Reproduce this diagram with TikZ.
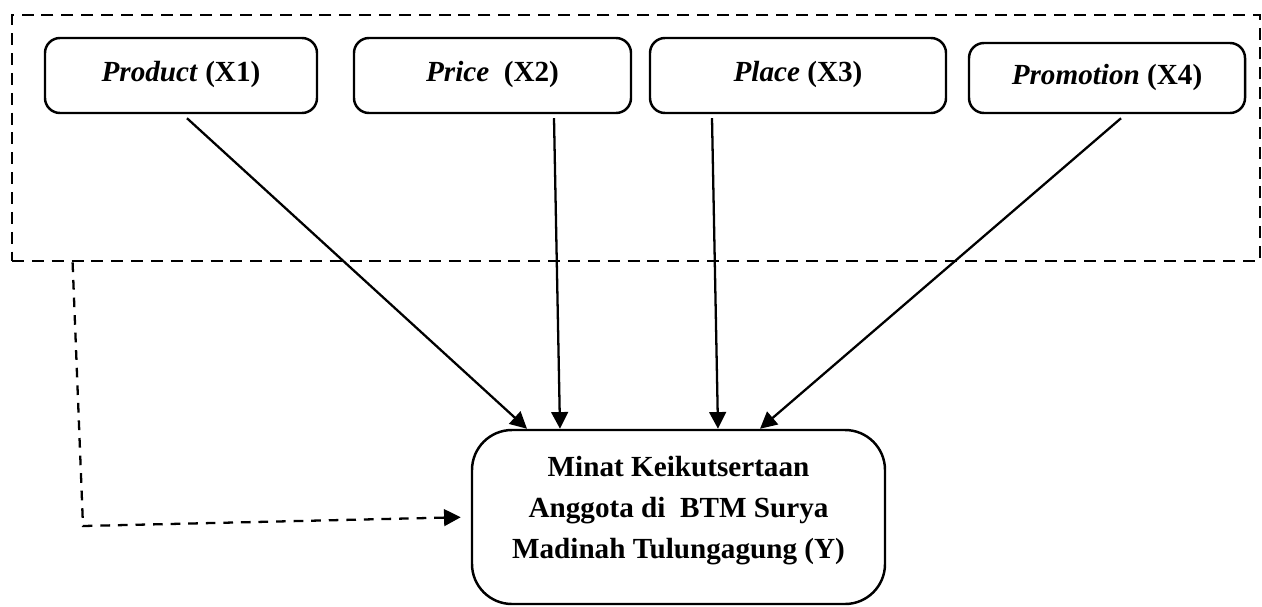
\documentclass[tikz,border=0pt]{standalone}
\usepackage{fontspec}
\setmainfont{Liberation Serif}
\usetikzlibrary{arrows.meta}
\usetikzlibrary{positioning}

\begin{document}
\begin{tikzpicture}[factor/.style={draw, rectangle, rounded corners=0.3cm, line width=1.4pt, minimum height=1.5cm, text depth=0.45em, font=\fontsize{16.6}{22}\selectfont\bfseries},
			result/.style={draw, rectangle, rounded corners=0.8cm, line width=1.4pt, minimum width=8.26cm, minimum height=3.48cm, text depth=10.6pt, font=\fontsize{16.6}{23.3}\selectfont\bfseries},
			group/.style={draw, rectangle, dash pattern=on 6.8pt off 4.5pt, line width=1.6pt, minimum width=24.96cm, minimum height=4.92cm},
			every text node part/.style={align=center}]
			\useasboundingbox (0,0) rectangle (25.24,-12.12);
			\node[group](frame) at (12.72, -2.76) {};
			
			\node[factor, minimum width=5.44cm](product) at (3.62, -1.51) {\textit{Product} (X1)};
			\node[factor, minimum width=5.54cm](price) at (9.85, -1.51) {\textit{Price}\ \ (X2)};
			\node[factor, minimum width=5.92cm](place) at (15.96, -1.51) {\textit{Place} (X3)};
			\node[factor, minimum width=5.52cm, minimum height=1.4cm](promotion) at (22.14, -1.56) {\textit{Promotion} (X4)};
			
			\node[result](target) at (13.57, -10.34) {Minat Keikutsertaan\\Anggota di\ \ BTM Surya\\Madinah Tulungagung (Y)};
			
			\draw[->,>={Triangle[length=9.5pt,width=9.5pt]}, line width=1.3pt] ([xshift=0.12cm,yshift=-0.08cm]product.south) -- ([xshift=-3.03cm]target.north);
			\draw[->,>={Triangle[length=9.5pt,width=9.5pt]}, line width=1.3pt] ([xshift=1.23cm,yshift=-0.08cm]price.south) -- ([xshift=-2.37cm]target.north);
			\draw[->,>={Triangle[length=9.5pt,width=9.5pt]}, line width=1.3pt] ([xshift=-1.72cm,yshift=-0.08cm]place.south) -- ([xshift=0.79cm]target.north);
			\draw[->,>={Triangle[length=9.5pt,width=9.5pt]}, line width=1.3pt] ([xshift=0.28cm,yshift=-0.08cm]promotion.south) -- ([xshift=1.63cm]target.north);
			
			\coordinate (bend) at (1.66, -10.52);
			\draw[->,>={Triangle[length=9.5pt,width=9.5pt]}, dash pattern=on 5.5pt off 4.5pt, line width=1.3pt, shorten >=0.2cm] ([xshift=1.24cm]frame.south west) -- (bend) -- (target.west);
		\end{tikzpicture}
\end{document}
